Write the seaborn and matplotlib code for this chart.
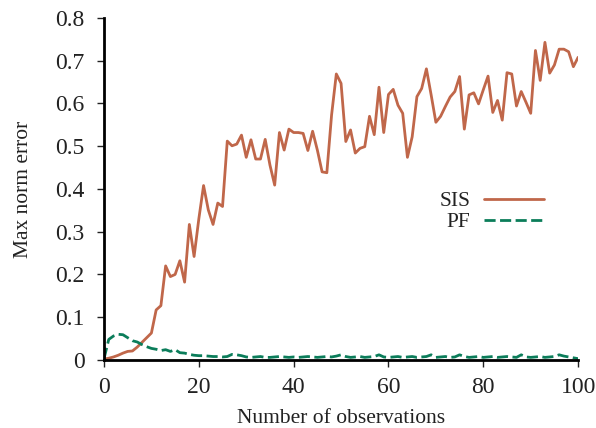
import pandas as pd
import seaborn as sns
import numpy as np
import matplotlib.pyplot as plt

# ====== data ======
obs = list(range(0, 101))

sis = [0.002, 0.004, 0.007, 0.011, 0.016, 0.020, 0.021, 0.030, 0.041, 0.052,
       0.063, 0.117, 0.127, 0.220, 0.195, 0.200, 0.232, 0.182, 0.317, 0.242,
       0.330, 0.408, 0.351, 0.317, 0.367, 0.359, 0.512, 0.501, 0.505, 0.526,
       0.474, 0.515, 0.470, 0.470, 0.516, 0.456, 0.409, 0.532, 0.491, 0.540,
       0.532, 0.532, 0.530, 0.490, 0.535, 0.491, 0.440, 0.438, 0.573, 0.669,
       0.647, 0.511, 0.538, 0.484, 0.495, 0.499, 0.570, 0.527, 0.638, 0.532,
       0.621, 0.633, 0.596, 0.577, 0.474, 0.522, 0.616, 0.635, 0.681, 0.620,
       0.556, 0.570, 0.593, 0.615, 0.628, 0.663, 0.540, 0.620, 0.625, 0.599,
       0.632, 0.664, 0.579, 0.607, 0.561, 0.672, 0.669, 0.594, 0.628, 0.603,
       0.577, 0.724, 0.654, 0.743, 0.671, 0.690, 0.727, 0.727, 0.721, 0.686,
       0.708]

pf = [0.003, 0.048, 0.056, 0.060, 0.059, 0.052, 0.045, 0.042, 0.036, 0.031,
      0.027, 0.025, 0.022, 0.024, 0.020, 0.024, 0.017, 0.016, 0.013, 0.011,
      0.010, 0.010, 0.009, 0.008, 0.008, 0.007, 0.008, 0.013, 0.012, 0.010,
      0.007, 0.006, 0.007, 0.008, 0.006, 0.006, 0.007, 0.008, 0.007, 0.006,
      0.007, 0.006, 0.007, 0.008, 0.007, 0.006, 0.007, 0.008, 0.007, 0.009,
      0.012, 0.008, 0.006, 0.007, 0.008, 0.006, 0.007, 0.008, 0.012, 0.007,
      0.006, 0.007, 0.008, 0.006, 0.007, 0.008, 0.006, 0.007, 0.008, 0.012,
      0.006, 0.007, 0.008, 0.006, 0.007, 0.012, 0.008, 0.006, 0.007, 0.008,
      0.006, 0.007, 0.008, 0.006, 0.007, 0.008, 0.007, 0.006, 0.012, 0.007,
      0.006, 0.007, 0.008, 0.006, 0.007, 0.008, 0.012, 0.009, 0.007, 0.005,
      0.003]

df = pd.DataFrame({'obs': obs * 2,
                   'err': sis + pf,
                   'method': ['SIS'] * len(sis) + ['PF'] * len(pf)})

# ====== plot ======
sns.set_style('ticks')
plt.rcParams['font.family'] = ['Liberation Serif', 'DejaVu Serif']

fig = plt.figure(figsize=(5.96, 4.28), dpi=100)
ax = fig.add_axes([0.1745, 0.159, 0.7955, 0.799])

sns.lineplot(data=df, x='obs', y='err', hue='method', style='method',
             palette={'SIS': '#c0674a', 'PF': '#0b7d5a'},
             dashes={'SIS': '', 'PF': (4, 1.6)},
             linewidth=2, ax=ax)

ax.set_xlim(0, 100)
ax.set_ylim(0, 0.8)
ax.set_xticks([0, 20, 40, 60, 80, 100])
ax.set_yticks([0, 0.1, 0.2, 0.3, 0.4, 0.5, 0.6, 0.7, 0.8])
ax.set_yticklabels(['0', '0.1', '0.2', '0.3', '0.4', '0.5', '0.6', '0.7', '0.8'])
ax.tick_params(labelsize=17, colors='#222222', width=1, length=5,
               direction='out', pad=7)
ax.tick_params(axis='y', pad=9)
ax.set_xlabel('Number of observations', fontsize=15.5, color='#222222', labelpad=8)
ax.set_ylabel('Max norm error', fontsize=15.5, color='#222222', labelpad=16)
for s in ['left', 'bottom']:
    ax.spines[s].set_linewidth(2)
    ax.spines[s].set_color('black')
sns.despine(ax=ax)

leg = ax.legend(loc='upper left', bbox_to_anchor=(0.667, 0.55), frameon=False,
                markerfirst=False, fontsize=15.5, handlelength=2.8,
                handletextpad=0.6, labelspacing=0.05)
for t in leg.get_texts():
    t.set_ha('right')
    t.set_color('#222222')

fig.savefig('out.png', dpi=100)
